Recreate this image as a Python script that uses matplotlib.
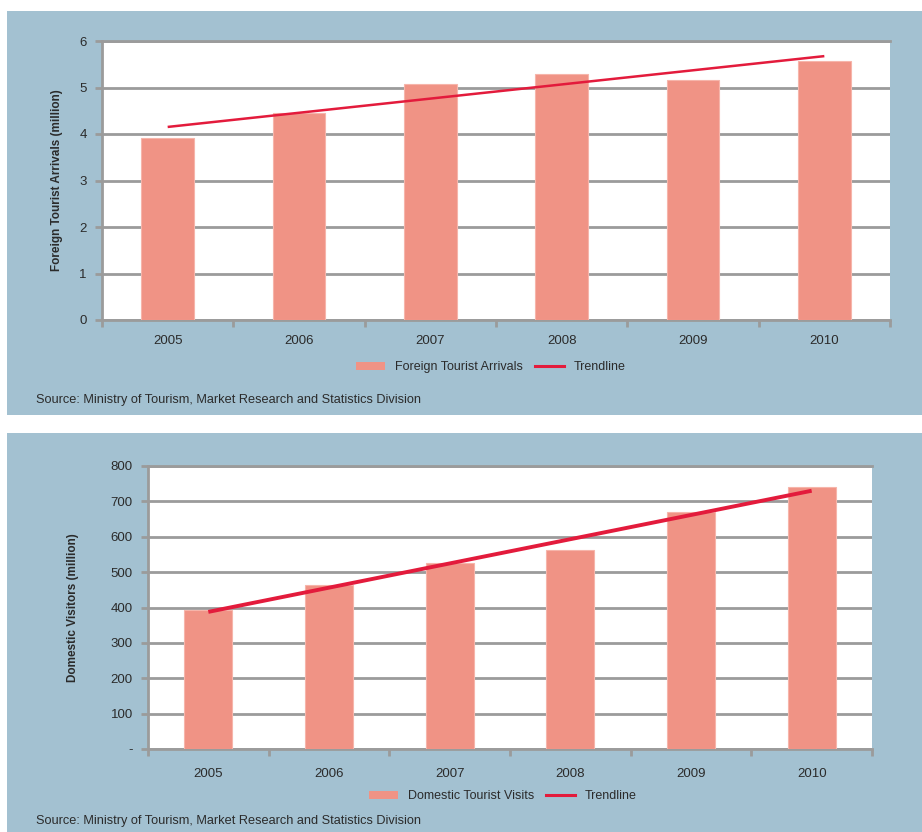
import numpy as np
import matplotlib
matplotlib.use("Agg")
import matplotlib.pyplot as plt
from matplotlib.patches import Rectangle, Patch
from matplotlib.lines import Line2D

plt.rcParams["font.family"] = ["Liberation Sans Narrow", "Liberation Sans", "DejaVu Sans"]

years = ["2005", "2006", "2007", "2008", "2009", "2010"]
foreign = [3.92, 4.45, 5.08, 5.28, 5.17, 5.58]
domestic = [392.0, 462.3, 526.6, 563.0, 668.8, 740.2]

foreign_yticks = [0, 1, 2, 3, 4, 5, 6]
foreign_ylabels = ["0", "1", "2", "3", "4", "5", "6"]
domestic_yticks = [0, 100, 200, 300, 400, 500, 600, 700, 800]
domestic_ylabels = ["-", "100", "200", "300", "400", "500", "600", "700", "800"]

source = "Source: Ministry of Tourism, Market Research and Statistics Division"

bg = "#a3c1d1"
bar_color = "#f09385"
trend_color = "#e31b3c"
grid_color = "#9b9b9b"
text_color = "#2b2b2b"

W, H = 922, 832
fig = plt.figure(figsize=(W / 100, H / 100), dpi=100)
fig.patch.set_facecolor("white")


def px(x0, y0, x1, y1):
    # pixel box (top-down) -> figure fraction rect
    return [x0 / W, 1 - y1 / H, (x1 - x0) / W, (y1 - y0) / H]


def panel(box, axbox, values, yticks, ylabels, ylabel, ylabel_x, series_name,
          trend_lw, legend_y, legend_x, source_y, xlabel_pad):
    r = px(*box)
    fig.patches.append(Rectangle((r[0], r[1]), r[2], r[3], transform=fig.transFigure,
                                 facecolor=bg, edgecolor="none", zorder=-5))
    ax = fig.add_axes(px(*axbox))
    ax.set_facecolor("white")
    x = np.arange(len(years))
    ax.bar(x, values, width=0.4, color=bar_color, edgecolor="#f6b5aa",
           linewidth=0.8, zorder=3)
    k, b = np.polyfit(x, values, 1)
    ax.plot([x[0], x[-1]], [k * x[0] + b, k * x[-1] + b], color=trend_color,
            lw=trend_lw, zorder=4, solid_capstyle="butt")

    ax.set_xlim(-0.5, len(years) - 0.5)
    ax.set_ylim(yticks[0], yticks[-1])
    ax.set_yticks(yticks)
    ax.set_yticklabels(ylabels)
    ax.set_xticks(x)
    ax.set_xticklabels(years)
    ax.set_xticks(np.arange(len(years) + 1) - 0.5, minor=True)
    ax.tick_params(axis="x", which="major", length=0, pad=xlabel_pad,
                   labelsize=9.5, labelcolor=text_color)
    ax.tick_params(axis="x", which="minor", length=5, width=2, color=grid_color)
    ax.tick_params(axis="y", length=5, width=2, color=grid_color, pad=6,
                   labelsize=9.5, labelcolor=text_color)
    ax.yaxis.grid(True, color=grid_color, lw=2, zorder=1)
    ax.set_axisbelow(True)
    ax.spines["right"].set_visible(False)
    for s in ["left", "bottom", "top"]:
        ax.spines[s].set_color(grid_color)
        ax.spines[s].set_linewidth(2)

    fig.text(ylabel_x / W, 1 - (axbox[1] + axbox[3]) / 2 / H, ylabel, rotation=90,
             ha="center", va="center", fontsize=8.5, fontweight="bold", color=text_color)

    handles = [Patch(facecolor=bar_color, edgecolor="none"),
               Line2D([], [], color=trend_color, lw=2.2)]
    fig.legend(handles, [series_name, "Trendline"], loc="center",
               bbox_to_anchor=(legend_x / W, 1 - legend_y / H), ncol=2, frameon=False,
               fontsize=9, labelcolor=text_color, handlelength=2.3, handleheight=0.6,
               columnspacing=1.0, handletextpad=0.8)
    fig.text(36 / W, 1 - source_y / H, source, ha="left", va="center",
             fontsize=9.2, color=text_color)


panel((7, 11, 922, 415), (102, 41, 890, 320), foreign, foreign_yticks, foreign_ylabels,
      "Foreign Tourist Arrivals (million)", 57, "Foreign Tourist Arrivals",
      1.8, 367, 491, 400, 11)
panel((7, 433, 922, 832), (148, 466, 872, 749), domestic, domestic_yticks, domestic_ylabels,
      "Domestic Visitors (million)", 73, "Domestic Tourist Visits",
      2.8, 796, 503, 821, 14)

fig.savefig("out.png", dpi=100)
